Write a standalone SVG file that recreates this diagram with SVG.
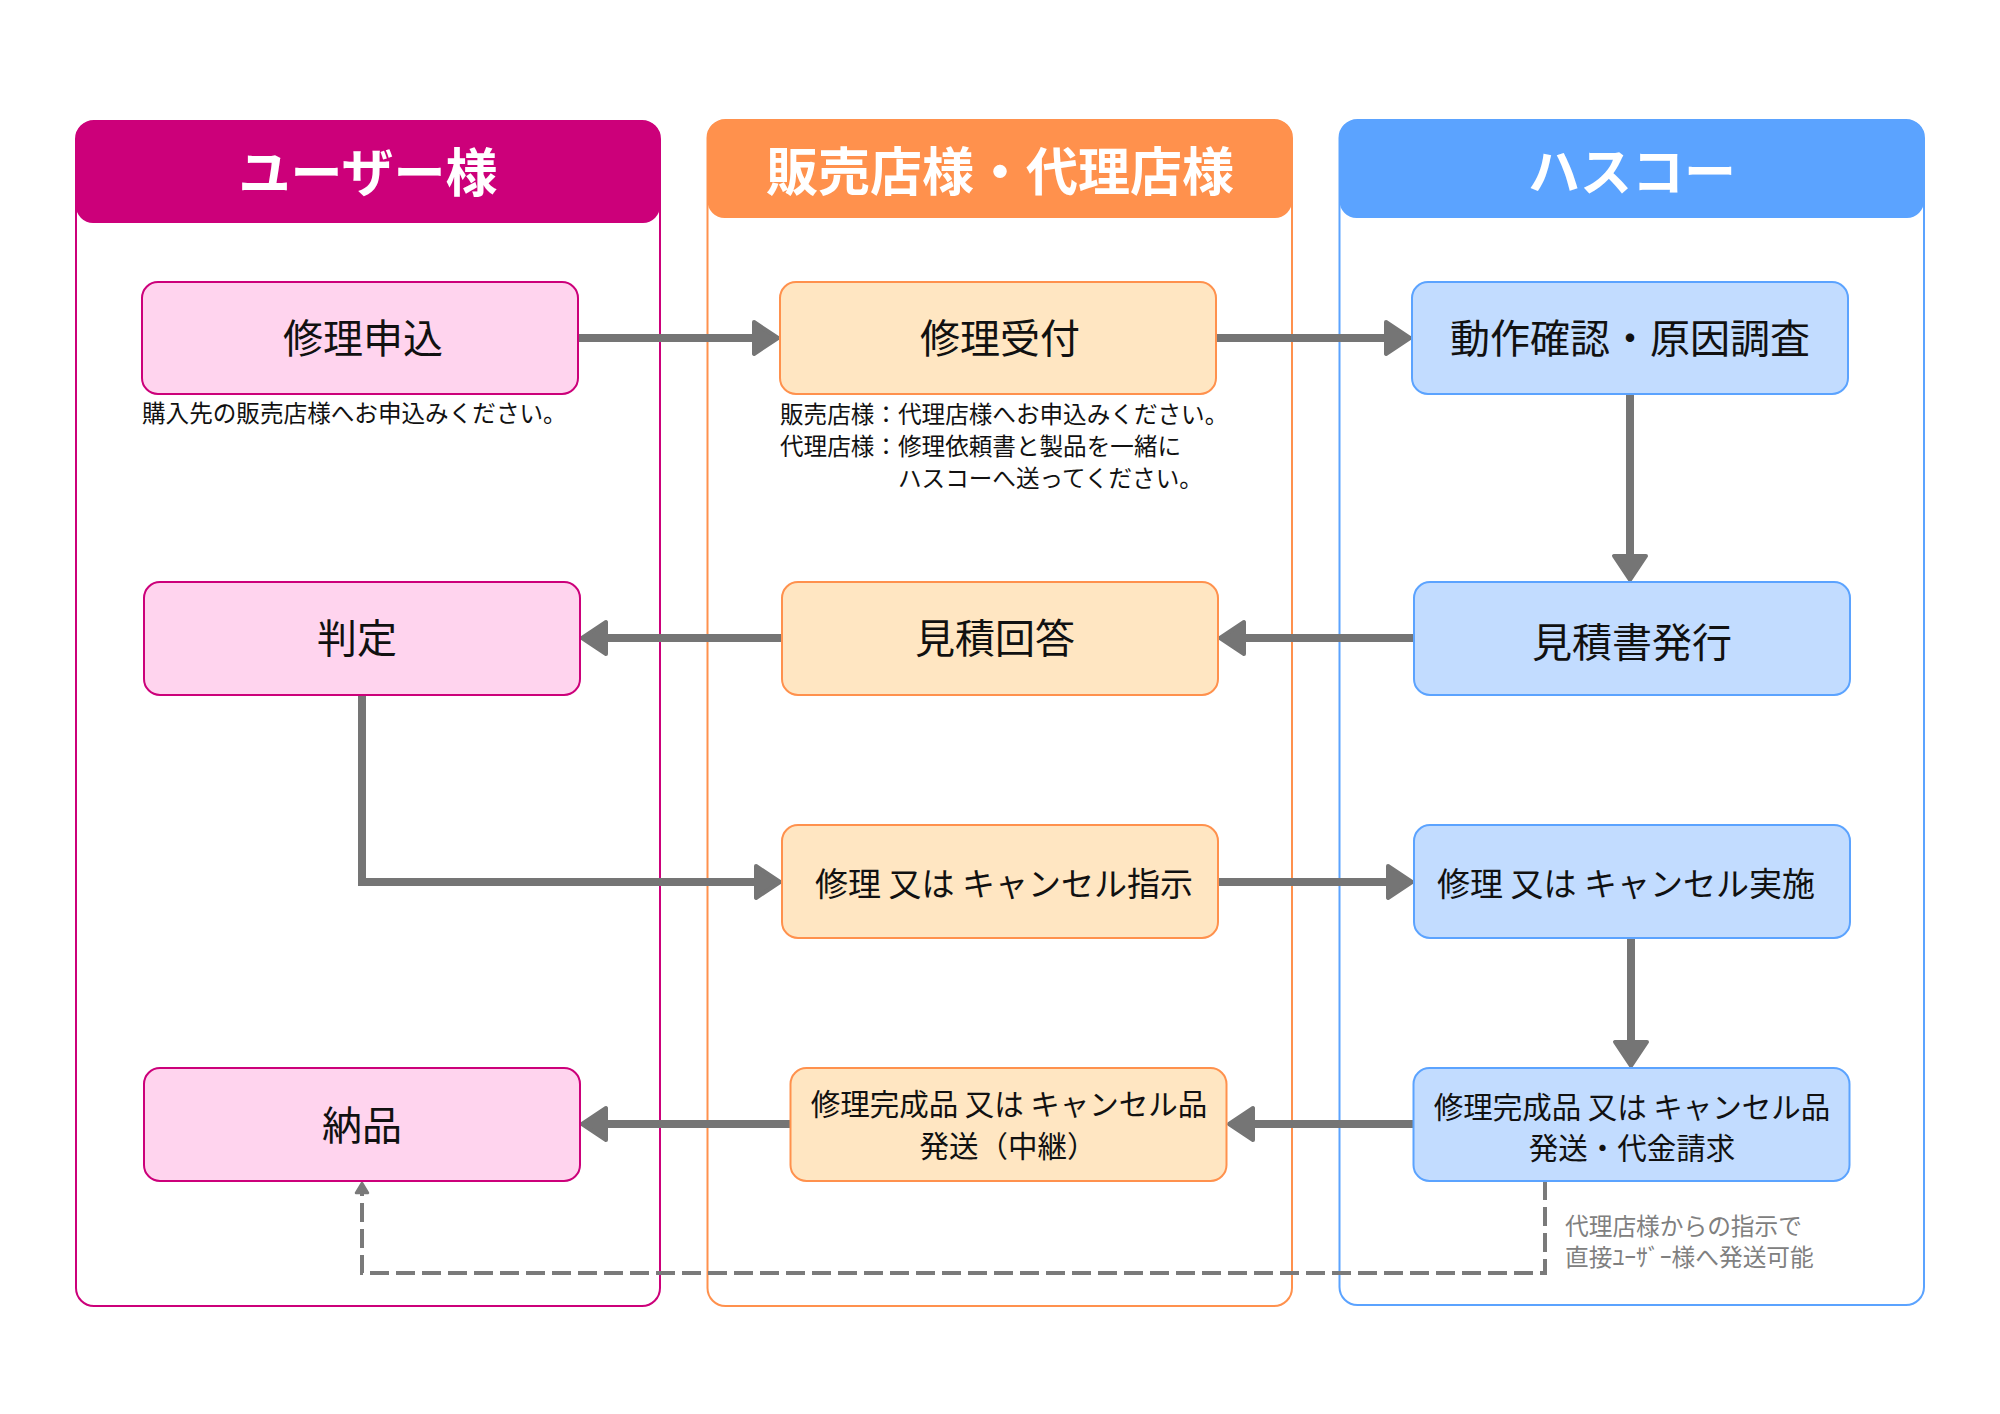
<svg xmlns="http://www.w3.org/2000/svg" width="2000" height="1414" viewBox="0 0 2000 1414">
<style>
  text { font-family: "Noto Sans CJK JP", "Noto Sans", sans-serif; }
  .hdr { font-size: 52px; font-weight: 700; fill: #ffffff; text-anchor: middle; dominant-baseline: central; }
  .lbl { font-size: 40px; fill: #111111; text-anchor: middle; dominant-baseline: central; }
  .lbl33 { font-size: 33px; fill: #111111; text-anchor: middle; dominant-baseline: central; }
  .lbl30 { font-size: 29.5px; fill: #111111; text-anchor: middle; dominant-baseline: central; }
  .note { font-size: 23.6px; fill: #111111; dominant-baseline: central; }
  .gnote { font-size: 23.7px; fill: #808080; dominant-baseline: central; }
  .pinkNode { fill: #FFD4EE; stroke: #CC007A; stroke-width: 2; }
  .orNode { fill: #FFE6C2; stroke: #FF914D; stroke-width: 2; }
  .blNode { fill: #C2DCFF; stroke: #5BA3FF; stroke-width: 2; }
  .conn { fill: none; stroke: #757575; stroke-width: 8; marker-end: url(#ah); }
  .dash { fill: none; stroke: #7a7a7a; stroke-width: 4; stroke-dasharray: 19 7; marker-end: url(#ahs); }
</style>
<defs>
  <marker id="ah" markerUnits="userSpaceOnUse" markerWidth="32" markerHeight="40" viewBox="0 0 32 40" refX="3" refY="20" orient="auto">
    <path d="M3,4 L27,20 L3,36 Z" fill="#757575" stroke="#757575" stroke-width="4" stroke-linejoin="round"/>
  </marker>
  <marker id="ahs" markerUnits="userSpaceOnUse" markerWidth="16" markerHeight="18" viewBox="0 0 16 18" refX="2" refY="9" orient="auto">
    <path d="M2,3 L12,9 L2,15 Z" fill="#7a7a7a" stroke="#7a7a7a" stroke-width="2.5" stroke-linejoin="round"/>
  </marker>
</defs>
<rect width="2000" height="1414" fill="#ffffff"/>

<g id="lane-user">
  <rect x="76" y="121" width="584" height="1185" rx="18" fill="none" stroke="#CC007A" stroke-width="2"/>
  <rect x="76" y="121" width="584" height="102" rx="17" fill="#CC007A"/>
  <text class="hdr" x="368" y="169">ユーザー様</text>
</g>
<g id="lane-dealer">
  <rect x="707.5" y="120" width="584.5" height="1186" rx="18" fill="none" stroke="#FF914D" stroke-width="2"/>
  <rect x="707.5" y="120" width="584.5" height="98" rx="17" fill="#FF914D"/>
  <text class="hdr" x="1000" y="168">販売店様・代理店様</text>
</g>
<g id="lane-hasco">
  <rect x="1339.5" y="120" width="584.5" height="1185" rx="18" fill="none" stroke="#5BA3FF" stroke-width="2"/>
  <rect x="1339.5" y="120" width="584.5" height="98" rx="17" fill="#5BA3FF"/>
  <text class="hdr" x="1632" y="168">ハスコー</text>
</g>

<g id="connectors">
  <path class="conn" d="M578,338 H754"/>
  <path class="conn" d="M1216,338 H1386"/>
  <path class="conn" d="M1630,394 V556"/>
  <path class="conn" d="M1414,638 H1244"/>
  <path class="conn" d="M782,638 H606"/>
  <path class="conn" d="M362,695 V882 H756" stroke-linejoin="miter"/>
  <path class="conn" d="M1218,882 H1388"/>
  <path class="conn" d="M1631,938 V1042"/>
  <path class="conn" d="M1413,1124 H1253"/>
  <path class="conn" d="M790,1124 H606"/>
  <path class="dash" d="M1545,1181 V1273 H362 V1193"/>
</g>

<g id="node-moushikomi">
  <rect class="pinkNode" x="142" y="282" width="436" height="112" rx="16"/>
  <text class="lbl" x="363" y="336">修理申込</text>
</g>
<g id="note-moushikomi">
  <text class="note" x="142" y="412">購入先の販売店様へお申込みください。</text>
</g>
<g id="node-uketsuke">
  <rect class="orNode" x="780" y="282" width="436" height="112" rx="16"/>
  <text class="lbl" x="1000" y="336">修理受付</text>
</g>
<g id="note-uketsuke">
  <text class="note" x="780" y="413">販売店様：代理店様へお申込みください。</text>
  <text class="note" x="780" y="445">代理店様：修理依頼書と製品を一緒に</text>
  <text class="note" x="898" y="477">ハスコーへ送ってください。</text>
</g>
<g id="node-kakunin">
  <rect class="blNode" x="1412" y="282" width="436" height="112" rx="16"/>
  <text class="lbl" x="1630" y="336">動作確認・原因調査</text>
</g>

<g id="node-hantei">
  <rect class="pinkNode" x="144" y="582" width="436" height="113" rx="16"/>
  <text class="lbl" x="357" y="636">判定</text>
</g>
<g id="node-mitsumori-kaitou">
  <rect class="orNode" x="782" y="582" width="436" height="113" rx="16"/>
  <text class="lbl" x="995" y="636">見積回答</text>
</g>
<g id="node-mitsumorisho">
  <rect class="blNode" x="1414" y="582" width="436" height="113" rx="16"/>
  <text class="lbl" x="1632" y="640">見積書発行</text>
</g>

<g id="node-shiji">
  <rect class="orNode" x="782" y="825" width="436" height="113" rx="16"/>
  <text class="lbl33" x="1004" y="882">修理 又は キャンセル指示</text>
</g>
<g id="node-jisshi">
  <rect class="blNode" x="1414" y="825" width="436" height="113" rx="16"/>
  <text class="lbl33" x="1626" y="882">修理 又は キャンセル実施</text>
</g>

<g id="node-nouhin">
  <rect class="pinkNode" x="144" y="1068" width="436" height="113" rx="16"/>
  <text class="lbl" x="362" y="1123">納品</text>
</g>
<g id="node-hassou-chuukei">
  <rect class="orNode" x="790.5" y="1068" width="436" height="113" rx="16"/>
  <text class="lbl30" x="1009" y="1102">修理完成品 又は キャンセル品</text>
  <text class="lbl30" x="1008" y="1144">発送（中継）</text>
</g>
<g id="node-hassou-seikyu">
  <rect class="blNode" x="1413.5" y="1068" width="436" height="113" rx="16"/>
  <text class="lbl30" x="1632" y="1105">修理完成品 又は キャンセル品</text>
  <text class="lbl30" x="1632" y="1146">発送・代金請求</text>
</g>
<g id="note-direct">
  <text class="gnote" x="1565" y="1225">代理店様からの指示で</text>
  <text class="gnote" x="1565" y="1256">直接ﾕｰｻﾞｰ様へ発送可能</text>
</g>
</svg>
